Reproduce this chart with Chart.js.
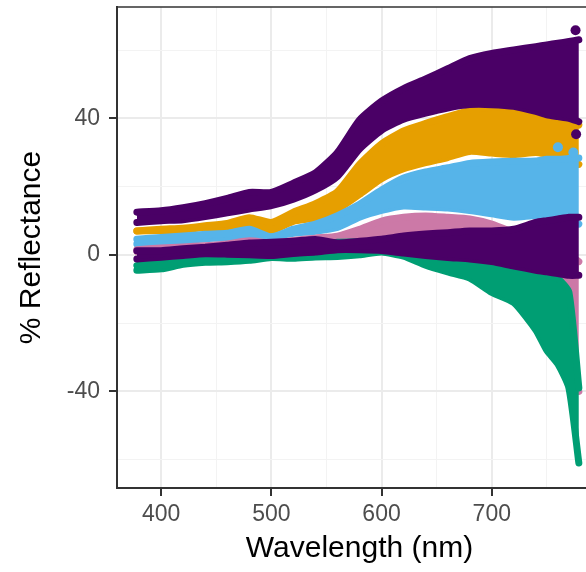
<!DOCTYPE html>
<html>
<head>
<meta charset="utf-8">
<script src="https://cdn.jsdelivr.net/npm/chart.js@4.4.1/dist/chart.umd.min.js"></script>
<style>
  html, body { margin: 0; padding: 0; overflow: hidden; background: #fff; }
  #wrap { width: 586px; height: 572px; overflow: hidden; }
</style>
</head>
<body>
<div id="wrap"><canvas id="myChart" width="612" height="572"></canvas></div>
<script>
// wavelengths (nm) where each band's edges were read
const wavelengths = [378, 400, 420, 440, 460, 480, 500, 520, 540, 560, 580, 600, 620, 640, 660, 680, 700, 720, 740, 750, 760, 770, 779]

// % reflectance, upper and lower edge of each cloud of points
const purpleHiTop = [12.5, 12.9, 13.8, 15, 16.5, 18.3, 18.3, 21, 24, 30, 39.5, 45, 48.7, 51.5, 54.5, 57.5, 59, 60, 61, 61.5, 62, 62.5, 63]
const purpleHiBottom = [9.5, 10, 10.3, 11.2, 12.3, 13.4, 14.4, 16.3, 19, 23, 31, 36.5, 39.7, 41.5, 43, 44, 44, 43.5, 42, 41, 40.5, 40, 39]
const orangeTop = [7, 7.5, 7.8, 8.5, 9.2, 10.9, 9.5, 12.5, 15, 18.5, 26.5, 32.5, 36.3, 38.5, 40.5, 42.3, 43.2, 43.3, 42, 41, 40, 39, 38]
const orangeBottom = [7, 7.1, 7.3, 8, 7.9, 8.1, 7.1, 9.8, 10.8, 13.3, 17.7, 22.3, 25.2, 27, 28.5, 30.3, 29.8, 29.4, 30, 29.5, 29, 28, 26.5]
const blueTop = [4.6, 5.1, 5.5, 6, 6.3, 7.5, 5.3, 7.5, 9, 11.5, 14.8, 19, 22.5, 24.3, 25.5, 26.8, 27.2, 27.4, 27.5, 28, 28, 28.2, 28.4]
const blueBottom = [3.2, 3.7, 4.1, 4.7, 5, 5.2, 5.2, 6.3, 6.9, 8, 11, 13, 14.3, 14, 13.7, 13, 12, 11, 11.5, 11, 10.5, 10, 9]
const pinkTop = [1.5, 2, 2.3, 2.7, 3.2, 4.1, 3.5, 4.2, 4.9, 5.5, 7.5, 9.9, 11, 11.4, 11, 10.5, 9, 6.5, 4, 3, 2, 0, -2]
const pinkBottom = [1, 1.3, 1.6, 1.8, 2, 2, 2.3, 2.8, 3.3, 4.5, 5.5, 6.5, 7, 7.2, 7, 5, 1, -3.5, -5, -6, -10, -32, -40]
const greenTop = [-3.2, -1.5, 1.2, 1.4, 1.5, 1.6, 1.8, 2.3, 2.8, 3.7, 3.8, 4, 3.5, 2.5, 1.5, 0, -2, -3.5, -5, -6, -7, -11, -39]
const greenBottom = [-4.5, -4.1, -2.8, -2.2, -2, -1.6, -0.8, -1, -0.6, -0.5, 0, 0.8, -0.4, -3, -5, -6.8, -11, -14, -22, -28, -32, -39, -61]
const purpleLowTop = [1.2, 1.2, 1.8, 2.2, 2.8, 3.5, 3.7, 4, 4.5, 3.5, 4, 4.6, 5.5, 6.1, 6.5, 7, 7, 7.5, 9.5, 10, 10.5, 11, 11]
const purpleLowBottom = [-1.2, -0.7, -0.2, 0.3, 0.2, 0, -0.2, 0.4, 0.8, 1.5, 1.5, 1.3, 0.5, -0.2, -0.8, -1.2, -2, -3.3, -4.5, -5, -5.5, -6, -6]

// a few stray points
const purpleStrayX = [776, 776.5]
const purpleStrayY = [65.8, 35.3]
const blueStrayX = [760, 774]
const blueStrayY = [31.5, 30]

const xTicks = [400, 450, 500, 550, 600, 650, 700, 750]
const yTicks = [-60, -40, -20, 0, 20, 40, 60]
const xLabels = [400, 500, 600, 700]
const yLabels = [-40, 0, 40]

const colors = {
  purple: '#4a0066',
  orange: '#E69F00',
  blue: '#56B4E9',
  pink: '#CC79A7',
  green: '#009E73'
}

const pts = (ys) => wavelengths.map((w, i) => ({ x: w, y: ys[i] }))

function band(top, bottom, color) {
  const common = {
    type: 'line',
    borderColor: color,
    backgroundColor: color,
    borderWidth: 7,
    borderJoinStyle: 'round',
    borderCapStyle: 'round',
    pointRadius: 0,
    tension: 0.2
  }
  return [
    Object.assign({}, common, { data: pts(top), fill: '+1' }),
    Object.assign({}, common, { data: pts(bottom), fill: false })
  ]
}

function stray(xs, ys, color) {
  return {
    type: 'scatter',
    data: xs.map((x, i) => ({ x: x, y: ys[i] })),
    pointRadius: 5,
    pointBackgroundColor: color,
    pointBorderWidth: 0
  }
}

// first dataset is drawn on top
const datasets = [
  ...band(purpleLowTop, purpleLowBottom, colors.purple),
  stray(purpleStrayX, purpleStrayY, colors.purple),
  ...band(purpleHiTop, purpleHiBottom, colors.purple),
  ...band(greenTop, greenBottom, colors.green),
  ...band(pinkTop, pinkBottom, colors.pink),
  stray(blueStrayX, blueStrayY, colors.blue),
  ...band(blueTop, blueBottom, colors.blue),
  ...band(orangeTop, orangeBottom, colors.orange)
]

const panelBorder = {
  id: 'panelBorder',
  afterDatasetsDraw(chart) {
    const { ctx, chartArea: a } = chart
    ctx.save()
    ctx.strokeStyle = '#333333'
    ctx.lineWidth = 1.5
    ctx.strokeRect(a.left, a.top, a.right - a.left, a.bottom - a.top)
    ctx.restore()
  }
}

const tickFont = { family: '"Liberation Sans", Arial, sans-serif', size: 23 }
const titleFont = { family: '"Liberation Sans", Arial, sans-serif', size: 30 }

const ctx = document.getElementById('myChart')
const myChart = new Chart(ctx, {
  data: { datasets: datasets },
  plugins: [panelBorder],
  options: {
    responsive: false,
    animation: false,
    layout: { padding: { top: 7, right: 10, left: 0, bottom: 0 } },
    scales: {
      x: {
        type: 'linear',
        position: 'bottom',
        min: 360,
        max: 800,
        afterBuildTicks: (scale) => { scale.ticks = xTicks.map(v => ({ value: v })) },
        afterFit: (scale) => { scale.height = 84; scale.paddingLeft = 0; scale.paddingRight = 0 },
        ticks: {
          color: '#4D4D4D',
          font: tickFont,
          padding: 5,
          maxRotation: 0,
          autoSkip: false,
          callback: (v) => xLabels.includes(v) ? String(v) : ''
        },
        grid: {
          color: (c) => (c.tick && c.tick.value % 100 === 0) ? '#EBEBEB' : '#F3F3F3',
          lineWidth: (c) => (c.tick && c.tick.value % 100 === 0) ? 2 : 1,
          tickColor: (c) => (c.tick && c.tick.value % 100 === 0) ? '#333333' : 'rgba(0,0,0,0)',
          tickLength: 8,
          tickWidth: 2
        },
        border: { display: true, color: '#333333', width: 2 },
        title: {
          display: true,
          text: 'Wavelength (nm)',
          color: '#000000',
          font: titleFont,
          padding: { top: 0, bottom: 5 }
        }
      },
      y: {
        type: 'linear',
        min: -68.3,
        max: 72.6,
        afterBuildTicks: (scale) => { scale.ticks = yTicks.map(v => ({ value: v })) },
        afterFit: (scale) => { scale.width = 117; scale.paddingTop = 0; scale.paddingBottom = 0 },
        ticks: {
          color: '#4D4D4D',
          font: tickFont,
          padding: 9,
          autoSkip: false,
          callback: (v) => yLabels.includes(v) ? String(v) : ''
        },
        grid: {
          color: (c) => (c.tick && c.tick.value % 40 === 0) ? '#EBEBEB' : '#F3F3F3',
          lineWidth: (c) => (c.tick && c.tick.value % 40 === 0) ? 2 : 1,
          tickColor: (c) => (c.tick && c.tick.value % 40 === 0) ? '#333333' : 'rgba(0,0,0,0)',
          tickLength: 8,
          tickWidth: 2
        },
        border: { display: true, color: '#333333', width: 2 },
        title: {
          display: true,
          text: '% Reflectance',
          color: '#000000',
          font: titleFont,
          padding: { top: 14, bottom: 0 }
        }
      }
    },
    plugins: {
      legend: { display: false },
      tooltip: { enabled: false },
      filler: { drawTime: 'beforeDatasetDraw' }
    }
  }
})
</script>
</body>
</html>
